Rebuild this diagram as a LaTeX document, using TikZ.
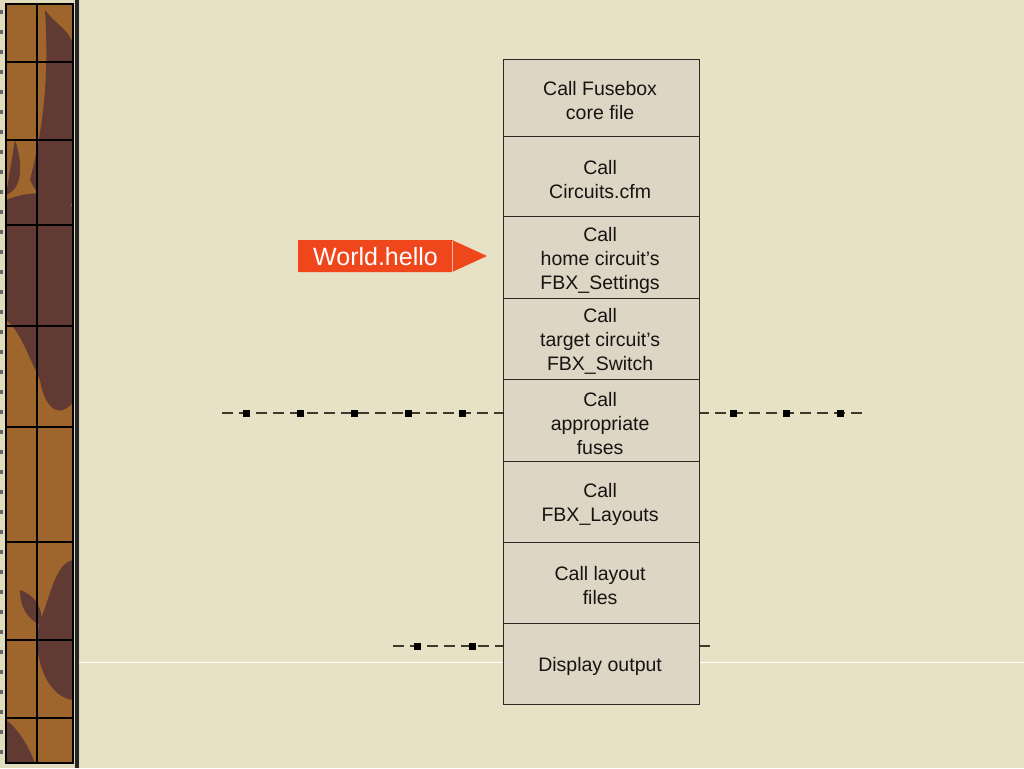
\documentclass[tikz,border=0pt]{standalone}
\usepackage{fontspec}
\setmainfont{Liberation Sans}
\definecolor{bgc}{RGB}{231,226,197}
\definecolor{boxfill}{RGB}{222,214,196}
\definecolor{boxline}{RGB}{45,40,35}
\definecolor{dashc}{RGB}{60,58,45}
\definecolor{arrowc}{RGB}{240,70,28}
\definecolor{stripc}{RGB}{158,102,44}
\definecolor{stripdark}{RGB}{98,58,52}
\definecolor{stripedge}{RGB}{225,220,190}
\definecolor{textc}{RGB}{22,20,18}
\tikzset{
  box/.style={draw=boxline, line width=1.2pt, fill=boxfill, minimum width=196pt,
    inner sep=0pt, anchor=north west},
  boxtext/.style={align=center, inner sep=0pt, text=textc, yshift=-2.5pt, xshift=-1.5pt,
    font=\fontsize{19.5}{24}\selectfont},
  dashline/.style={draw=dashc, line width=1.3pt, dash pattern=on 11pt off 6pt},
  marker/.style={fill=black},
}
\begin{document}
\begin{tikzpicture}[x=1pt,y=-1pt]
\useasboundingbox (0,0) rectangle (1024,768);
% background
\fill[bgc] (0,0) rectangle (1024,768);
% left decorative strip
\fill[stripedge] (0,0) rectangle (80,768);
\fill[stripc] (6,4) rectangle (73,763);
\begin{scope}
\clip (6,4) rectangle (73,763);
\fill[stripdark] (45,10) .. controls (60,30) and (75,30) .. (75,60) -- (75,200) .. controls (60,220) and (40,200) .. (30,180) .. controls (40,140) and (50,90) .. (45,10) -- cycle;
\fill[stripdark] (6,200) .. controls (30,190) and (60,190) .. (75,210) -- (75,400) .. controls (60,420) and (45,410) .. (40,380) .. controls (30,360) and (20,330) .. (6,320) -- cycle;
\fill[stripdark] (15,140) .. controls (25,170) and (20,190) .. (6,195) -- cycle;
\fill[stripdark] (75,560) .. controls (55,560) and (50,600) .. (40,620) .. controls (30,660) and (50,700) .. (75,700) -- cycle;
\fill[stripdark] (20,590) .. controls (35,595) and (45,610) .. (40,625) .. controls (30,620) and (20,610) .. (20,590) -- cycle;
\fill[stripdark] (6,720) .. controls (20,730) and (30,750) .. (35,763) -- (6,763) -- cycle;
\end{scope}
\draw[black, line width=1.3pt] (37,4) -- (37,763);
\foreach \yy in {62,140,225,326,427,542,640,718}
  \draw[black, line width=1.3pt] (6,\yy) -- (73,\yy);
\draw[black, line width=1.5pt] (6,4) rectangle (73,763);
\fill[black!85] (75,0) rectangle (78.5,768);
\foreach \yy in {10,30,...,760}
  \fill[black!60] (0,\yy) rectangle (3,\yy+4);
% white rule
\draw[white, line width=1.3pt] (78.5,662.5) -- (1024,662.5);
% dashed lines with markers
\coordinate (d1a) at (222,413);
\coordinate (d1b) at (862,413);
\coordinate (d2a) at (393,646);
\coordinate (d2b) at (712,646);
\draw[dashline] (d1a) -- (d1b);
\draw[dashline] (d2a) -- (d2b);
\foreach \xx in {246,300,354,408,462,733,786,840}
  \fill[marker] (\xx-3.5,409.5) rectangle (\xx+3.5,416.5);
\foreach \xx in {417,472}
  \fill[marker] (\xx-3.5,642.5) rectangle (\xx+3.5,649.5);
% boxes
\node[box, minimum height=77pt, label={[boxtext]center:{Call Fusebox\\core file}}] (b1) at (503,59) {};
\node[box, minimum height=80pt, label={[boxtext]center:{Call\\Circuits.cfm}}] (b2) at (503,136) {};
\node[box, minimum height=82pt, label={[boxtext]center:{Call\\home circuit’s\\FBX\_Settings}}] (b3) at (503,216) {};
\node[box, minimum height=81pt, label={[boxtext]center:{Call\\target circuit’s\\FBX\_Switch}}] (b4) at (503,298) {};
\node[box, minimum height=82pt, label={[boxtext]center:{Call\\appropriate\\fuses}}] (b5) at (503,379) {};
\node[box, minimum height=81pt, label={[boxtext]center:{Call\\FBX\_Layouts}}] (b6) at (503,461) {};
\node[box, minimum height=81pt, label={[boxtext]center:{Call layout\\files}}] (b7) at (503,542) {};
\node[box, minimum height=81pt, label={[boxtext]center:{Display output}}] (b8) at (503,623) {};
% arrow label
\fill[arrowc] (298,240) -- (452,240) -- (487,256) -- (452,272) -- (298,272) -- cycle;
\draw[white!60!arrowc, line width=0.6pt] (452,240.5) -- (452,271.5);
\node[text=white, font=\fontsize{25}{29}\selectfont, anchor=center, inner sep=0pt] (hello) at (375.5,257) {World.hello};
\end{tikzpicture}
\end{document}
